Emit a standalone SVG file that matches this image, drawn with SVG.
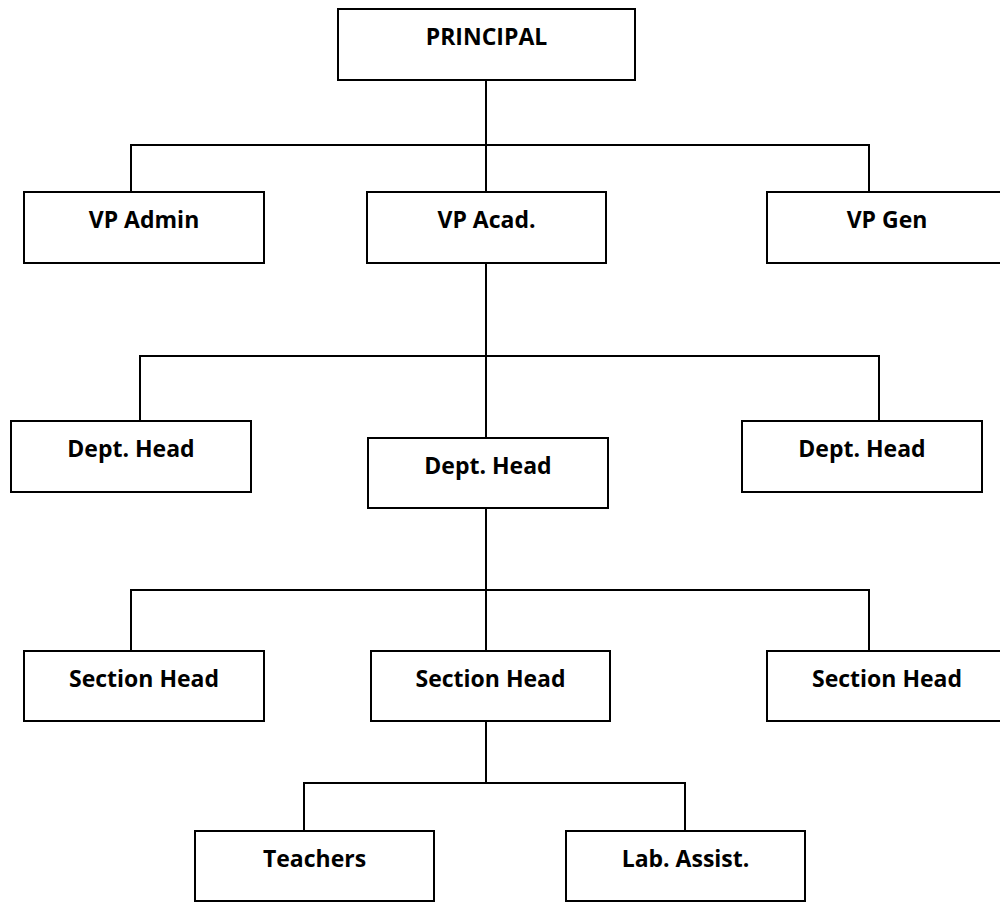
<svg xmlns="http://www.w3.org/2000/svg" width="1000" height="902" viewBox="0 0 1000 902">
<style>
.box{fill:#fff;stroke:#000;stroke-width:2}
.lbl{font-family:"Open Sans","Liberation Sans",sans-serif;font-weight:bold;font-size:23px;fill:#000;text-anchor:middle}
.conn path{fill:none;stroke:#000;stroke-width:2}
</style>
<rect width="1000" height="902" fill="#fff"/>
<g class="conn" id="connectors">
<path d="M486 80V192"/>
<path d="M131 192V145H869V192"/>
<path d="M486 263V438"/>
<path d="M140 421V356H879V421"/>
<path d="M486 508V651"/>
<path d="M131 651V590H869V651"/>
<path d="M486 721V783"/>
<path d="M304 831V783H685V831"/>
</g>
<g id="principal"><rect class="box" x="338" y="9" width="297" height="71"/><text class="lbl" x="486.5" y="45">PRINCIPAL</text></g>
<g id="vp-admin"><rect class="box" x="24" y="192" width="240" height="71"/><text class="lbl" x="144" y="228">VP Admin</text></g>
<g id="vp-acad"><rect class="box" x="367" y="192" width="239" height="71"/><text class="lbl" x="486.5" y="228">VP Acad.</text></g>
<g id="vp-gen"><rect class="box" x="767" y="192" width="240" height="71"/><text class="lbl" x="887" y="228">VP Gen</text></g>
<g id="dept-left"><rect class="box" x="11" y="421" width="240" height="71"/><text class="lbl" x="131" y="457">Dept. Head</text></g>
<g id="dept-center"><rect class="box" x="368" y="438" width="240" height="70"/><text class="lbl" x="488" y="474">Dept. Head</text></g>
<g id="dept-right"><rect class="box" x="742" y="421" width="240" height="71"/><text class="lbl" x="862" y="457">Dept. Head</text></g>
<g id="section-left"><rect class="box" x="24" y="651" width="240" height="70"/><text class="lbl" x="144" y="687">Section Head</text></g>
<g id="section-center"><rect class="box" x="371" y="651" width="239" height="70"/><text class="lbl" x="490.5" y="687">Section Head</text></g>
<g id="section-right"><rect class="box" x="767" y="651" width="240" height="70"/><text class="lbl" x="887" y="687">Section Head</text></g>
<g id="teachers"><rect class="box" x="195" y="831" width="239" height="70"/><text class="lbl" x="314.5" y="867">Teachers</text></g>
<g id="lab-assist"><rect class="box" x="566" y="831" width="239" height="70"/><text class="lbl" x="685.5" y="867">Lab. Assist.</text></g>
</svg>
